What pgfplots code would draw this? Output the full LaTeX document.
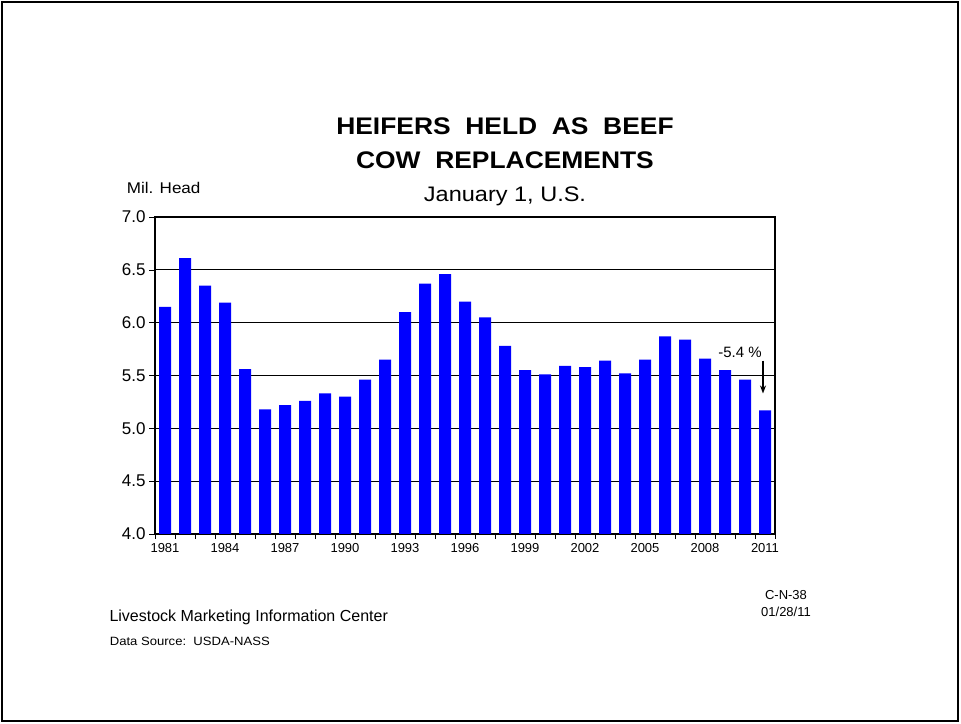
\documentclass[border=0pt]{standalone}
\usepackage{pgfplots}
\pgfplotsset{compat=1.18}
\usetikzlibrary{arrows.meta}
\usepackage{fontspec}
\setmainfont{Liberation Sans}

\definecolor{barblue}{rgb}{0,0,1}

\begin{document}
\begin{tikzpicture}[x=1pt,y=1pt]
% page frame (1pt = 1px of the reference, y measured from the bottom)
\path[use as bounding box] (0,0) rectangle (961,723);
\draw[line width=1.2pt] (2,2) rectangle (958,721);

\begin{axis}[%
at={(155pt,189pt)},
anchor=south west,
width=620pt,
height=317pt,
scale only axis,
xmin=1980.5,
xmax=2011.5,
ymin=4,
ymax=7,
ytick={4,4.5,...,7},
xtick={1981,1984,...,2011},
minor xtick={1980.5,1981.5,...,2011.5},
xtick pos=bottom,
ytick pos=left,
ymajorgrids,
grid style={black,line width=0.8pt},
axis line style={line width=1.6pt},
tick align=outside,
x tick style={draw=none},
minor x tick style={draw=black,line width=0.6pt},
minor tick length=5pt,
y tick style={black,line width=0.6pt},
major tick length=6pt,
xticklabel style={font=\fontsize{13}{15}\selectfont,/pgf/number format/1000 sep={}},
yticklabel style={font=\fontsize{17}{19}\selectfont,/pgf/number format/.cd,fixed,fixed zerofill,precision=1},
/pgf/number format/assume math mode=true,
clip=false
]
\addplot[ybar,bar width=12pt,fill=barblue,draw=none] coordinates {
(1981,6.15) (1982,6.61) (1983,6.35) (1984,6.19) (1985,5.56)
(1986,5.18) (1987,5.22) (1988,5.26) (1989,5.33) (1990,5.30)
(1991,5.46) (1992,5.65) (1993,6.10) (1994,6.37) (1995,6.46)
(1996,6.20) (1997,6.05) (1998,5.78) (1999,5.55) (2000,5.51)
(2001,5.59) (2002,5.58) (2003,5.64) (2004,5.52) (2005,5.65)
(2006,5.87) (2007,5.84) (2008,5.66) (2009,5.55) (2010,5.46)
(2011,5.17)
};
\node[font=\fontsize{15}{17}\selectfont] at (axis cs:2009.75,5.72) {-5.4 \%};
\draw[-{Stealth[length=8pt,width=6pt]},line width=1.3pt] (axis cs:2010.9,5.64) -- (axis cs:2010.9,5.33);
\end{axis}

% titles
\node[font=\bfseries\fontsize{24}{28}\selectfont,xscale=1.1] at (505,597) {HEIFERS\ \ HELD\ \ AS\ \ BEEF};
\node[font=\bfseries\fontsize{24}{28}\selectfont,xscale=1.1] at (505,563) {COW\ \ REPLACEMENTS};
\node[font=\fontsize{21}{24}\selectfont,xscale=1.12] at (505,527) {January 1, U.S.};
\node[font=\fontsize{15.5}{18}\selectfont,xscale=1.1,anchor=west] at (123,535) {Mil. Head};

% footer
\node[font=\fontsize{16}{19}\selectfont,anchor=west] at (106,106) {Livestock Marketing Information Center};
\node[font=\fontsize{12}{14}\selectfont,xscale=1.09,anchor=west] at (106,82) {Data Source:\ \ USDA-NASS};
\node[font=\fontsize{13}{15}\selectfont] at (786,128) {C-N-38};
\node[font=\fontsize{13}{15}\selectfont] at (786,111) {01/28/11};
\end{tikzpicture}
\end{document}
